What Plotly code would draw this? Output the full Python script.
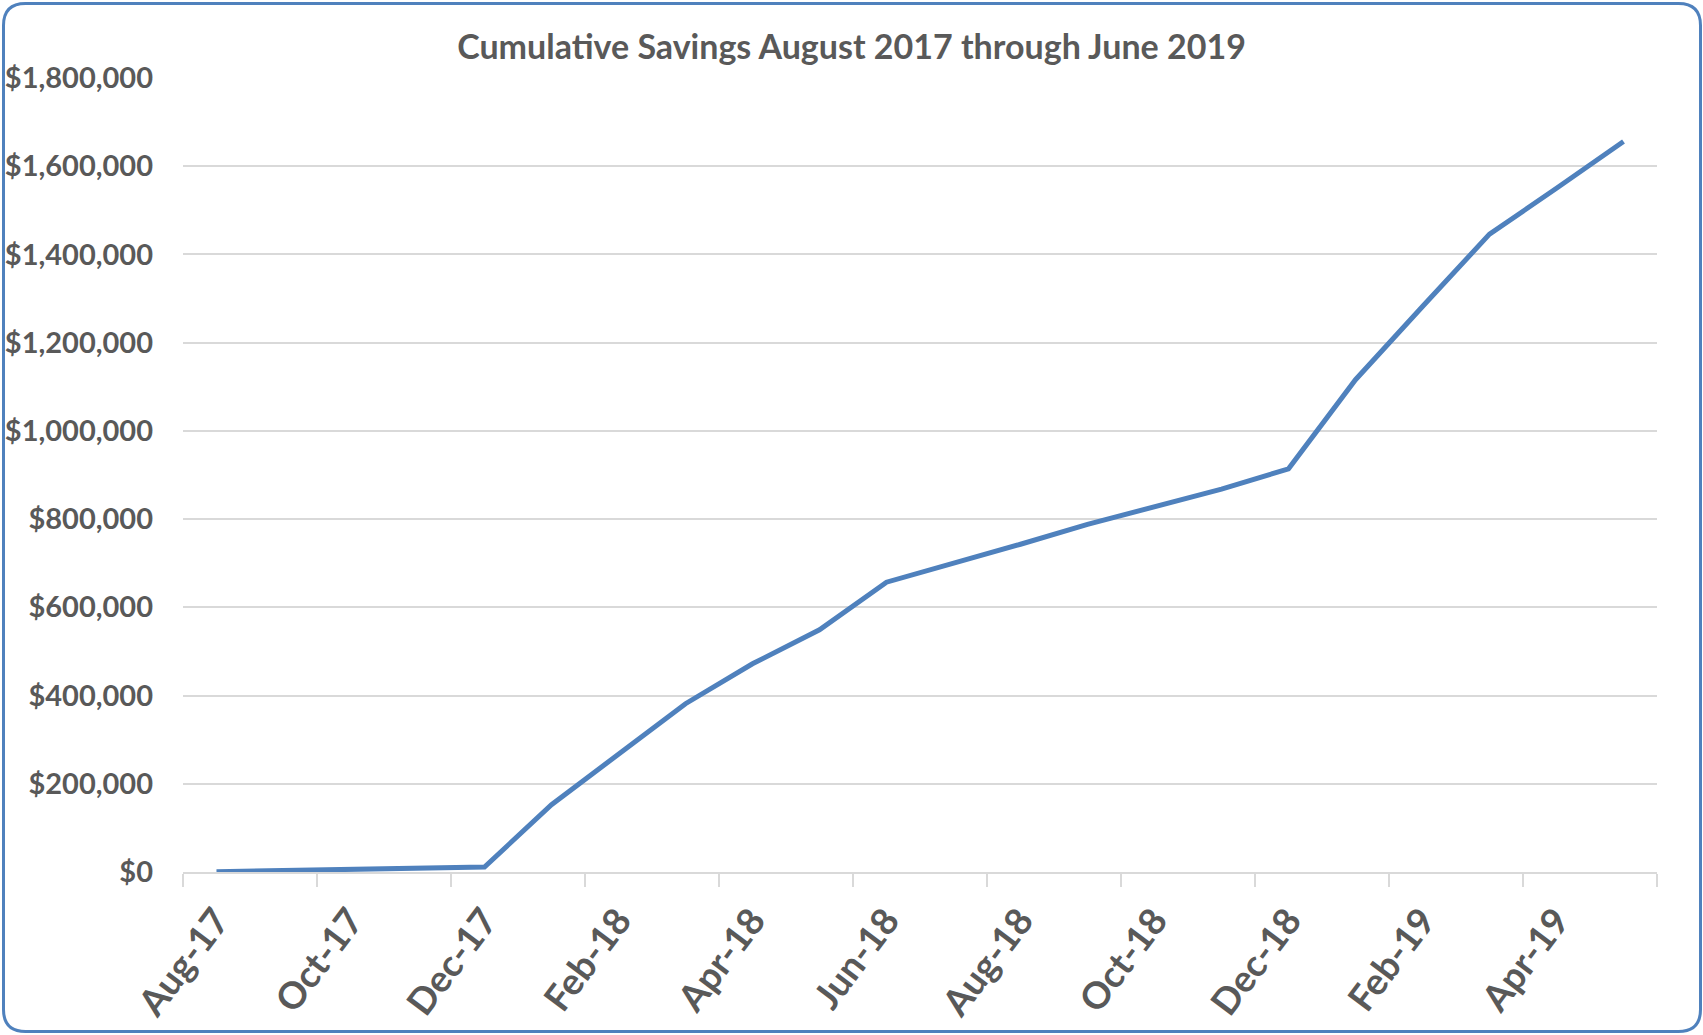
import plotly.graph_objects as go

# ---- data ----
months = ["Aug-17", "Sep-17", "Oct-17", "Nov-17", "Dec-17", "Jan-18", "Feb-18", "Mar-18",
          "Apr-18", "May-18", "Jun-18", "Jul-18", "Aug-18", "Sep-18", "Oct-18", "Nov-18",
          "Dec-18", "Jan-19", "Feb-19", "Mar-19", "Apr-19", "May-19"]
savings = [500, 2500, 5000, 8000, 11300, 152600, 268000, 381500,
           472000, 549000, 657000, 699000, 743000, 788000, 829000, 868000,
           914000, 1116000, 1282000, 1446000, 1550000, 1656000]
y_ticks = [0, 200000, 400000, 600000, 800000, 1000000, 1200000, 1400000, 1600000, 1800000]
y_labels = ["$" + f"{v:,}" for v in y_ticks]
title_text = "Cumulative Savings August 2017 through June 2019"

# ---- layout geometry ----
W, H = 1703, 1035
ML, MR, MT, MB = 183, 46, 78, 163
PW, PH = W - ML - MR, H - MT - MB

TEXT = "#595959"
GRID = "#d9d9d9"
BLUE = "#4F81BD"

x_pos = list(range(len(months)))
label_pos = x_pos[::2]
label_txt = months[::2]
boundaries = [p - 0.5 for p in label_pos] + [len(months) - 0.5]

fig = go.Figure()
fig.add_trace(go.Scatter(
    x=x_pos, y=savings, mode="lines",
    line=dict(color=BLUE, width=5),
    hoverinfo="skip", showlegend=False,
))


def pxx(x):
    return (x - ML) / PW


def pxy(y):
    return (MT + PH - y) / PH


# rounded chart border
x0, y0, x1, y1, r = 3.5, 3.5, 1700.5, 1031.5, 22


def pt(x, y):
    return f"{pxx(x):.5f},{pxy(y):.5f}"


border = (f"M {pt(x0 + r, y0)} L {pt(x1 - r, y0)} Q {pt(x1, y0)} {pt(x1, y0 + r)} "
          f"L {pt(x1, y1 - r)} Q {pt(x1, y1)} {pt(x1 - r, y1)} "
          f"L {pt(x0 + r, y1)} Q {pt(x0, y1)} {pt(x0, y1 - r)} "
          f"L {pt(x0, y0 + r)} Q {pt(x0, y0)} {pt(x0 + r, y0)} Z")

fig.update_layout(
    width=W, height=H,
    margin=dict(l=ML, r=MR, t=MT, b=MB, pad=0, autoexpand=False),
    paper_bgcolor="white", plot_bgcolor="white",
    showlegend=False,
    title=dict(text=title_text, x=0.5, xref="container", xanchor="center",
               y=1 - 47 / H, yref="container", yanchor="middle",
               font=dict(family="Lato", size=34, color=TEXT, weight="bold")),
    shapes=[dict(type="path", xref="paper", yref="paper", path=border,
                 line=dict(color=BLUE, width=3), fillcolor="rgba(0,0,0,0)", layer="above")],
    xaxis=dict(
        range=[-0.5, len(months) - 0.5],
        tickmode="array", tickvals=label_pos, ticktext=label_txt,
        ticks="", tickangle=-53,
        tickfont=dict(family="Lato", size=37, color=TEXT, weight="bold"),
        showgrid=False, zeroline=False,
        showline=True, linecolor=GRID, linewidth=1.5,
        minor=dict(tickmode="array", tickvals=boundaries, ticks="outside",
                   ticklen=13, tickwidth=1.5, tickcolor=GRID, showgrid=False),
        ticklabelstandoff=10,
        automargin=False,
        fixedrange=True,
    ),
    yaxis=dict(
        range=[0, 1800000],
        tickmode="array", tickvals=y_ticks, ticktext=y_labels,
        ticks="",
        tickfont=dict(family="Lato", size=29, color=TEXT, weight="bold"),
        showgrid=True, gridcolor=GRID, gridwidth=1.5,
        zeroline=False, showline=False,
        ticklabelstandoff=29,
        automargin=False,
        fixedrange=True,
    ),
)

fig.write_html("out.html", config={"displayModeBar": False},
               post_script="document.body.style.margin='0';")
